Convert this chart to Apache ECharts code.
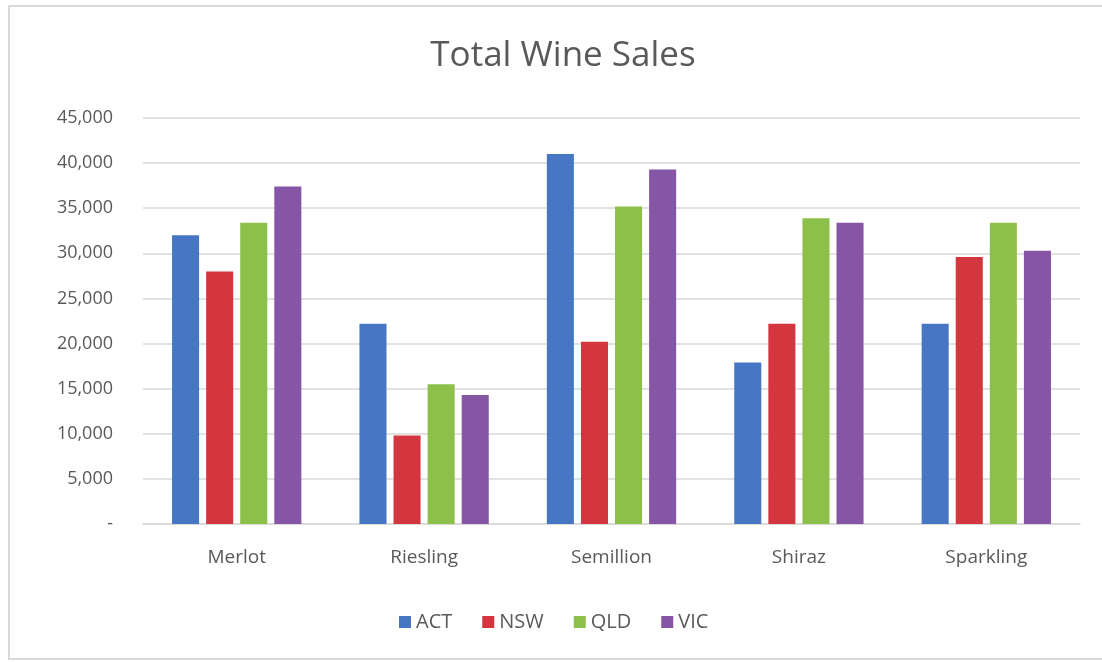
<!DOCTYPE html>
<html>
<head>
<meta charset="utf-8">
<title>Total Wine Sales</title>
<script src="https://cdn.jsdelivr.net/npm/echarts@6/dist/echarts.min.js"></script>
<style>
  html, body { margin: 0; padding: 0; background: #ffffff; }
  #chart { width: 1102px; height: 662px; }
</style>
</head>
<body>
<div id="chart"></div>
<script>
// Wine varieties along the x axis
const categories = ['Merlot', 'Riesling', 'Semillion', 'Shiraz', 'Sparkling'];

// Sales per state, one value per variety
const act = [32000, 22200, 41000, 17900, 22200];
const nsw = [28000, 9800, 20200, 22200, 29600];
const qld = [33400, 15500, 35200, 33900, 33400];
const vic = [37400, 14300, 39300, 33400, 30300];

const seriesNames = ['ACT', 'NSW', 'QLD', 'VIC'];
const seriesData = [act, nsw, qld, vic];
const seriesColors = ['#4676C4', '#D3363F', '#8CC04A', '#8755A6'];

const textColor = '#595959';
const fontFamily = '"Open Sans", "Noto Sans", sans-serif';

const chart = echarts.init(document.getElementById('chart'), null, { renderer: 'canvas' });

chart.setOption({
  animation: false,
  backgroundColor: '#ffffff',
  textStyle: { fontFamily: fontFamily },
  graphic: [{
    type: 'rect',
    shape: { x: 9, y: 6, width: 1100, height: 653 },
    style: { fill: 'none', stroke: '#d9d9d9', lineWidth: 2 },
    silent: true
  }],
  title: {
    text: 'Total Wine Sales',
    left: 558,
    textAlign: 'center',
    top: 34,
    textStyle: { color: textColor, fontSize: 35, fontWeight: 'normal', fontFamily: fontFamily }
  },
  legend: {
    data: seriesNames,
    bottom: 25,
    left: 394,
    itemWidth: 12,
    itemHeight: 12,
    itemGap: 30,
    icon: 'rect',
    textStyle: { color: textColor, fontSize: 20 }
  },
  grid: { left: 143, right: 22, top: 118, bottom: 138, containLabel: false },
  xAxis: {
    type: 'category',
    data: categories,
    axisLine: { lineStyle: { color: '#d9d9d9', width: 1.5 } },
    axisTick: { show: false },
    axisLabel: { color: textColor, fontSize: 19, margin: 24 }
  },
  yAxis: {
    type: 'value',
    min: 0,
    max: 45000,
    interval: 5000,
    axisLine: { show: false },
    axisTick: { show: false },
    splitLine: { lineStyle: { color: '#d9d9d9', width: 1.5 } },
    axisLabel: {
      color: textColor,
      fontSize: 18,
      margin: 30,
      formatter: v => v === 0 ? '-' : v.toLocaleString('en-US')
    }
  },
  series: seriesNames.map((name, i) => ({
    name: name,
    type: 'bar',
    data: seriesData[i],
    barGap: '26%',
    barCategoryGap: '31%',
    itemStyle: { color: seriesColors[i] }
  }))
});
</script>
</body>
</html>
